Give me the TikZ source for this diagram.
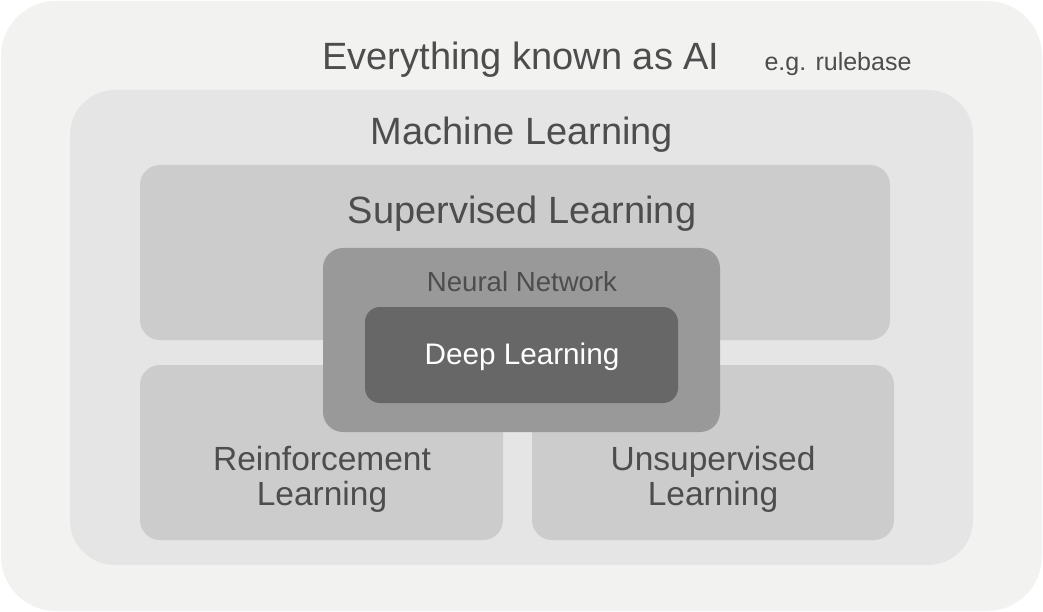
\documentclass[tikz,border=0pt]{standalone}
\usepackage{fontspec}
\setmainfont{Liberation Sans}
\definecolor{cOuter}{HTML}{F2F2F1}
\definecolor{cML}{HTML}{E5E5E5}
\definecolor{cSub}{HTML}{CCCCCC}
\definecolor{cNN}{HTML}{999999}
\definecolor{cDL}{HTML}{666766}
\definecolor{cTxt}{HTML}{4D4D4D}
\begin{document}
\begin{tikzpicture}[x=1pt,y=-1pt,
  lbl/.style={text=cTxt, inner sep=0pt, anchor=base, align=center},
  big/.style={lbl, font=\fontsize{38}{46}\selectfont},
  mid/.style={lbl, font=\fontsize{33.5}{35}\selectfont},
]
\useasboundingbox (0,0) rectangle (1043,612);
\fill[white] (0,0) rectangle (1043,612);
\fill[cOuter, rounded corners=55pt] (1,1) rectangle (1042,611);
\fill[cML, rounded corners=45pt] (70,90) rectangle (973,565);
\fill[cSub, rounded corners=20pt] (140,165) rectangle (890,340);
\fill[cSub, rounded corners=20pt] (140,365) rectangle (503,540);
\fill[cSub, rounded corners=20pt] (532,365) rectangle (894,540);
\fill[cNN, rounded corners=20pt] (323,248) rectangle (720,432);
\fill[cDL, rounded corners=15pt] (365,307) rectangle (678,403);
\node[big] (ai) at (521,70) {Everything known as AI};
\node[lbl, font=\fontsize{25}{30}\selectfont] (eg) at (838,71) {e.g. rulebase};
\node[big] (ml) at (522,145) {Machine Learning};
\node[big] (sl) at (522,224) {Supervised Learning};
\node[lbl, font=\fontsize{27.6}{32}\selectfont] (nn) at (522,291) {Neural Network};
\node[lbl, text=white, font=\fontsize{29.7}{34}\selectfont] (dl) at (522,364) {Deep Learning};
\node[mid] (rl) at (322,505) {Reinforcement\\Learning};
\node[mid] (ul) at (713,505) {Unsupervised\\Learning};
\end{tikzpicture}
\end{document}
